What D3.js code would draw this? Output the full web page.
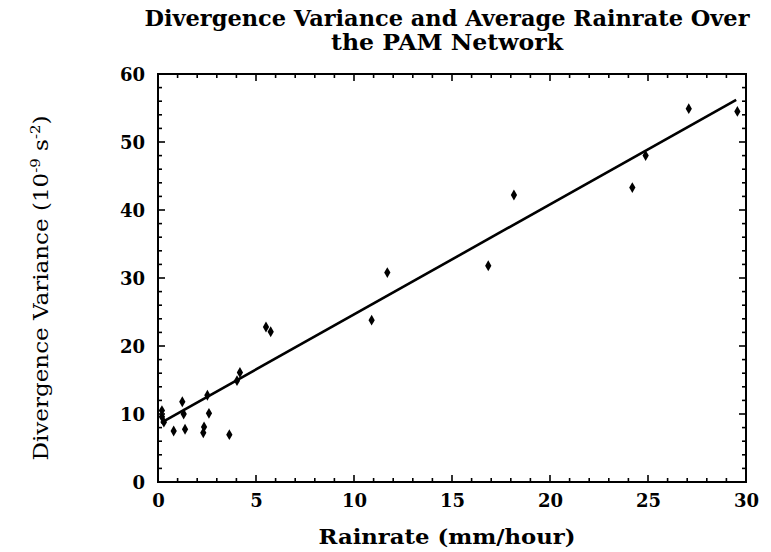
<!DOCTYPE html>
<html>
<head>
<meta charset="utf-8">
<script src="https://cdn.jsdelivr.net/npm/d3@7"></script>
<style>
  html, body { margin: 0; padding: 0; background: #fff; }
  svg { display: block; }
</style>
</head>
<body>
<svg id="chart" width="771" height="552"></svg>
<script>
// ---- data ----
const rainrate = [0.2, 0.2, 0.3, 0.8, 1.24, 1.31, 1.38, 2.31, 2.35, 2.52, 2.6, 3.64, 4.03, 4.18, 5.51, 5.75, 10.9, 11.7, 16.85, 18.16, 24.2, 24.88, 27.08, 29.56];
const divVariance = [10.5, 9.6, 8.8, 7.5, 11.8, 10.0, 7.75, 7.25, 8.1, 12.75, 10.1, 6.96, 14.9, 16.1, 22.8, 22.1, 23.8, 30.8, 31.8, 42.2, 43.3, 48.0, 54.9, 54.5];
const fitX = [0.15, 29.5];
const fitY = [8.7, 56.2];
const xTicks = [0, 5, 10, 15, 20, 25, 30];
const yTicks = [0, 10, 20, 30, 40, 50, 60];
const titleLines = ["Divergence Variance and Average Rainrate Over", "the PAM Network"];
const xLabel = "Rainrate (mm/hour)";

// ---- layout ----
const svg = d3.select("#chart");
const L = 158, R = 746, T = 74, B = 482;
const x = d3.scaleLinear().domain([0, 30]).range([L, R]);
const y = d3.scaleLinear().domain([0, 60]).range([B, T]);
const serif = "'DejaVu Serif', 'Liberation Serif', serif";

// frame
svg.append("rect").attr("x", L).attr("y", T).attr("width", R - L).attr("height", B - T)
  .attr("fill", "none").attr("stroke", "#000").attr("stroke-width", 2);

// ticks (inward, all four sides)
const xMinor = d3.range(0, 31, 1);
const yMinor = d3.range(0, 61, 2);
const tk = svg.append("g").attr("stroke", "#000").attr("stroke-width", 1.6);
xMinor.forEach(v => {
  const len = v % 5 === 0 ? 7 : 4;
  tk.append("line").attr("x1", x(v)).attr("x2", x(v)).attr("y1", B).attr("y2", B - len);
  tk.append("line").attr("x1", x(v)).attr("x2", x(v)).attr("y1", T).attr("y2", T + len);
});
yMinor.forEach(v => {
  const len = v % 10 === 0 ? 7 : 4;
  tk.append("line").attr("y1", y(v)).attr("y2", y(v)).attr("x1", L).attr("x2", L + len);
  tk.append("line").attr("y1", y(v)).attr("y2", y(v)).attr("x1", R).attr("x2", R - len);
});

// axes labels via d3 axes (no lines, only text)
const xAxis = svg.append("g").attr("transform", `translate(0,${B})`)
  .call(d3.axisBottom(x).tickValues(xTicks).tickSize(0).tickPadding(12).tickFormat(d3.format("d")));
const yAxis = svg.append("g").attr("transform", `translate(${L},0)`)
  .call(d3.axisLeft(y).tickValues(yTicks).tickSize(0).tickPadding(13).tickFormat(d3.format("d")));
[xAxis, yAxis].forEach(a => {
  a.select(".domain").remove();
  a.selectAll("text").attr("font-family", serif).attr("font-weight", "bold")
    .attr("font-size", 18).attr("fill", "#000");
});
xAxis.selectAll("text").attr("dy", "0.71em");
yAxis.selectAll("text").attr("dy", "0.35em");

// fit line
svg.append("line")
  .attr("x1", x(fitX[0])).attr("y1", y(fitY[0]))
  .attr("x2", x(fitX[1])).attr("y2", y(fitY[1]))
  .attr("stroke", "#000").attr("stroke-width", 2.6);

// points
const sym = d3.symbol().type(d3.symbolDiamond).size(34);
svg.append("g").selectAll("path").data(rainrate.map((v, i) => [v, divVariance[i]]))
  .join("path")
  .attr("transform", d => `translate(${x(d[0])},${y(d[1])})`)
  .attr("d", sym).attr("fill", "#000");

// title
const titleG = svg.append("g").attr("font-family", serif).attr("font-weight", "bold")
  .attr("font-size", 22).attr("text-anchor", "middle").attr("fill", "#000");
titleG.append("text").attr("x", 447).attr("y", 26).text(titleLines[0])
  .attr("textLength", 605).attr("lengthAdjust", "spacingAndGlyphs");
titleG.append("text").attr("x", 447).attr("y", 50).text(titleLines[1])
  .attr("textLength", 232).attr("lengthAdjust", "spacingAndGlyphs");

// x label
svg.append("text").attr("x", 447).attr("y", 544)
  .attr("font-family", serif).attr("font-weight", "bold").attr("font-size", 20)
  .attr("text-anchor", "middle").text(xLabel)
  .attr("textLength", 257).attr("lengthAdjust", "spacingAndGlyphs");

// y label with superscripts
const yl = svg.append("text")
  .attr("transform", "translate(48,288) rotate(-90)")
  .attr("font-family", serif).attr("font-size", 20).attr("text-anchor", "middle")
  .attr("fill", "#000");
yl.append("tspan").text("Divergence Variance (10");
yl.append("tspan").attr("font-size", 13).attr("dy", -8).text("-9");
yl.append("tspan").attr("dy", 8).text(" s");
yl.append("tspan").attr("font-size", 13).attr("dy", -8).text("-2");
yl.append("tspan").attr("dy", 8).text(")");
yl.attr("textLength", 345).attr("lengthAdjust", "spacingAndGlyphs");
</script>
</body>
</html>
